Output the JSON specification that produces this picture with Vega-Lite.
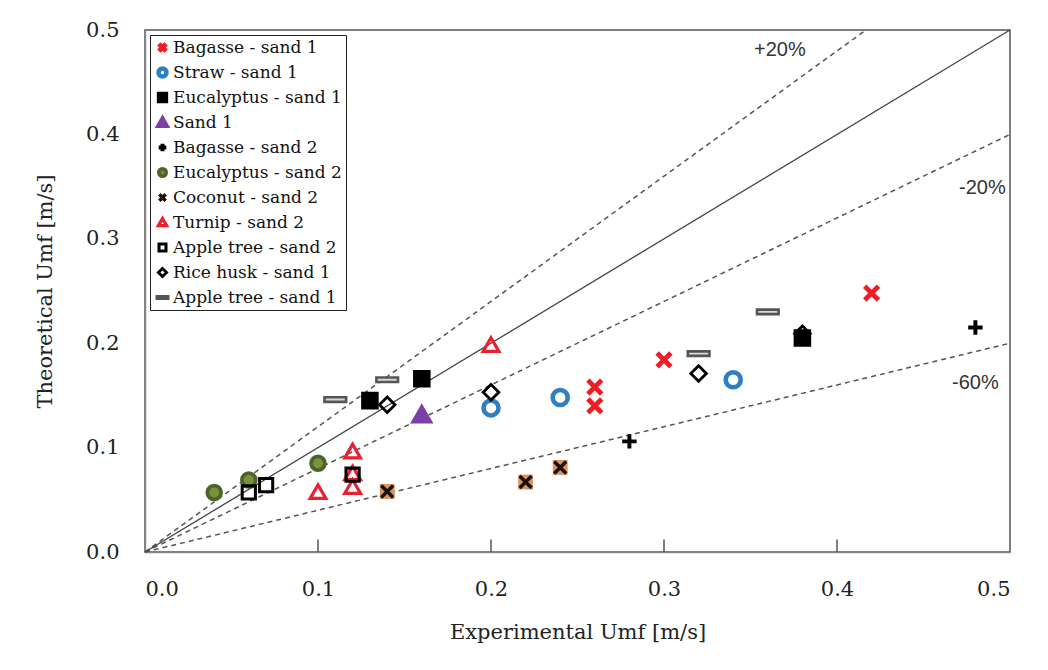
{
  "$schema": "https://vega.github.io/schema/vega-lite/v6.json",
  "autosize": "none",
  "width": 865,
  "height": 522,
  "padding": {"left": 145, "top": 30, "right": 38, "bottom": 118},
  "background": "white",
  "config": {
    "view": {"stroke": "#555", "strokeWidth": 1.5},
    "font": "DejaVu Serif",
    "axis": {
      "grid": false,
      "domainColor": "#888",
      "domainWidth": 1.5,
      "labelFont": "DejaVu Serif",
      "labelFontSize": 21,
      "labelColor": "#222",
      "titleFont": "DejaVu Serif",
      "titleFontSize": 21,
      "titleFontWeight": "normal",
      "titleColor": "#222"
    },
    "legend": {
      "labelFont": "DejaVu Serif",
      "labelFontSize": 17,
      "labelColor": "#111",
      "labelLimit": 400,
      "symbolSize": 40
    }
  },
  "datasets": {
    "pts": [
      {"series": "Bagasse - sand 1", "x": 0.42, "y": 0.248},
      {"series": "Bagasse - sand 1", "x": 0.30, "y": 0.184},
      {"series": "Bagasse - sand 1", "x": 0.26, "y": 0.158},
      {"series": "Bagasse - sand 1", "x": 0.26, "y": 0.140},
      {"series": "Straw - sand 1", "x": 0.20, "y": 0.138},
      {"series": "Straw - sand 1", "x": 0.24, "y": 0.148},
      {"series": "Straw - sand 1", "x": 0.34, "y": 0.165},
      {"series": "Eucalyptus - sand 1", "x": 0.13, "y": 0.145},
      {"series": "Eucalyptus - sand 1", "x": 0.16, "y": 0.166},
      {"series": "Eucalyptus - sand 1", "x": 0.38, "y": 0.205},
      {"series": "Sand 1", "x": 0.16, "y": 0.131},
      {"series": "Bagasse - sand 2", "x": 0.28, "y": 0.106},
      {"series": "Bagasse - sand 2", "x": 0.48, "y": 0.215},
      {"series": "Eucalyptus - sand 2", "x": 0.04, "y": 0.057},
      {"series": "Eucalyptus - sand 2", "x": 0.06, "y": 0.069},
      {"series": "Eucalyptus - sand 2", "x": 0.10, "y": 0.085},
      {"series": "Coconut - sand 2", "x": 0.14, "y": 0.058},
      {"series": "Coconut - sand 2", "x": 0.22, "y": 0.067},
      {"series": "Coconut - sand 2", "x": 0.24, "y": 0.081},
      {"series": "Turnip - sand 2", "x": 0.20, "y": 0.198},
      {"series": "Turnip - sand 2", "x": 0.12, "y": 0.096},
      {"series": "Turnip - sand 2", "x": 0.12, "y": 0.075},
      {"series": "Turnip - sand 2", "x": 0.12, "y": 0.062},
      {"series": "Turnip - sand 2", "x": 0.10, "y": 0.057},
      {"series": "Apple tree - sand 2", "x": 0.06, "y": 0.057},
      {"series": "Apple tree - sand 2", "x": 0.07, "y": 0.064},
      {"series": "Apple tree - sand 2", "x": 0.12, "y": 0.074},
      {"series": "Rice husk - sand 1", "x": 0.14, "y": 0.141},
      {"series": "Rice husk - sand 1", "x": 0.20, "y": 0.153},
      {"series": "Rice husk - sand 1", "x": 0.32, "y": 0.171},
      {"series": "Rice husk - sand 1", "x": 0.38, "y": 0.209},
      {"series": "Apple tree - sand 1", "x": 0.11, "y": 0.146},
      {"series": "Apple tree - sand 1", "x": 0.14, "y": 0.165},
      {"series": "Apple tree - sand 1", "x": 0.32, "y": 0.190},
      {"series": "Apple tree - sand 1", "x": 0.36, "y": 0.230}
    ],
    "lines": [
      {"line": "1:1", "x": 0, "y": 0},
      {"line": "1:1", "x": 0.5, "y": 0.5},
      {"line": "+20%", "x": 0, "y": 0},
      {"line": "+20%", "x": 0.4167, "y": 0.5},
      {"line": "-20%", "x": 0, "y": 0},
      {"line": "-20%", "x": 0.5, "y": 0.4},
      {"line": "-60%", "x": 0, "y": 0},
      {"line": "-60%", "x": 0.5, "y": 0.2}
    ],
    "labels": [
      {"text": "+20%", "x": 0.367, "y": 0.481},
      {"text": "-20%", "x": 0.484, "y": 0.349},
      {"text": "-60%", "x": 0.48, "y": 0.162}
    ],
    "xtickrows": [
      {"tx": 0.1, "ty": 0, "ty2": 0.012},
      {"tx": 0.2, "ty": 0, "ty2": 0.012},
      {"tx": 0.3, "ty": 0, "ty2": 0.012},
      {"tx": 0.4, "ty": 0, "ty2": 0.012}
    ]
  },
  "layer": [
    {
      "data": {"name": "lines"},
      "transform": [{"filter": "datum.line != '1:1'"}],
      "mark": {"type": "line", "color": "#555", "strokeWidth": 1.5, "strokeDash": [5, 4]},
      "encoding": {
        "x": {"field": "x", "type": "quantitative", "scale": {"domain": [0, 0.5]}},
        "y": {"field": "y", "type": "quantitative", "scale": {"domain": [0, 0.5]}},
        "detail": {"field": "line"}
      }
    },
    {
      "data": {"name": "xtickrows"},
      "mark": {"type": "rule", "color": "#555", "strokeWidth": 1.5},
      "encoding": {
        "x": {"field": "tx", "type": "quantitative"},
        "y": {"field": "ty", "type": "quantitative"},
        "y2": {"field": "ty2"}
      }
    },
    {
      "data": {"name": "lines"},
      "transform": [{"filter": "datum.line == '1:1'"}],
      "mark": {"type": "line", "color": "#444", "strokeWidth": 1.3},
      "encoding": {
        "x": {"field": "x", "type": "quantitative"},
        "y": {"field": "y", "type": "quantitative"}
      }
    },
    {
      "data": {"name": "labels"},
      "mark": {"type": "text", "font": "Liberation Sans", "fontSize": 20, "color": "#333"},
      "encoding": {
        "x": {"field": "x", "type": "quantitative"},
        "y": {"field": "y", "type": "quantitative"},
        "text": {"field": "text"}
      }
    },
    {
      "data": {"name": "pts"},
      "transform": [{"filter": "datum.series == 'Coconut - sand 2'"}],
      "mark": {"type": "point", "shape": "square", "filled": true, "color": "#D9955F", "size": 220, "opacity": 1},
      "encoding": {
        "x": {"field": "x", "type": "quantitative"},
        "y": {"field": "y", "type": "quantitative"}
      }
    },
    {
      "data": {"name": "pts"},
      "mark": {"type": "point", "size": 144, "opacity": 1},
      "encoding": {
        "x": {
          "field": "x", "type": "quantitative",
          "scale": {"domain": [0, 0.5]},
          "axis": {"values": [0, 0.1, 0.2, 0.3, 0.4, 0.5], "format": ".1f", "ticks": false, "labelPadding": 26, "title": "Experimental Umf [m/s]", "titlePadding": 22}
        },
        "y": {
          "field": "y", "type": "quantitative",
          "scale": {"domain": [0, 0.5]},
          "axis": {"values": [0, 0.1, 0.2, 0.3, 0.4, 0.5], "format": ".1f", "ticks": false, "labelPadding": 26, "title": "Theoretical Umf [m/s]", "titlePadding": 30}
        },
        "shape": {
          "field": "series", "type": "nominal",
          "scale": {
            "domain": ["Bagasse - sand 1", "Straw - sand 1", "Eucalyptus - sand 1", "Sand 1", "Bagasse - sand 2", "Eucalyptus - sand 2", "Coconut - sand 2", "Turnip - sand 2", "Apple tree - sand 2", "Rice husk - sand 1", "Apple tree - sand 1"],
            "range": [
              "M-1.15,-1.15L1.15,1.15M-1.15,1.15L1.15,-1.15",
              "M-1.25,0A1.25,1.25,0,1,1,1.25,0A1.25,1.25,0,1,1,-1.25,0Z",
              "M-1.1,-1.1L1.1,-1.1L1.1,1.1L-1.1,1.1Z",
              "M0,-1.3L1.35,1.05L-1.35,1.05Z",
              "M-1.2,0L1.2,0M0,-1.2L0,1.2",
              "M-1.15,0A1.15,1.15,0,1,1,1.15,0A1.15,1.15,0,1,1,-1.15,0Z",
              "M-1,-1L1,1M-1,1L1,-1",
              "M0,-1.25L1.3,1L-1.3,1Z",
              "M-1.1,-1.1L1.1,-1.1L1.1,1.1L-1.1,1.1Z",
              "M0,-1.3L1.3,0L0,1.3L-1.3,0Z",
              "M-1.8,-0.38L1.8,-0.38L1.8,0.38L-1.8,0.38Z"
            ]
          },
          "legend": {
            "title": null,
            "orient": "top-left",
            "offset": 5,
            "strokeColor": "#222",
            "padding": 4,
            "rowPadding": -2,
            "symbolSize": 40,
            "symbolOffset": 0,
            "labelOffset": 2,
            "labelLimit": 400,
            "gridAlign": "all",
            "fillColor": "white"
          }
        },
        "fill": {
          "field": "series", "type": "nominal",
          "scale": {
            "domain": ["Bagasse - sand 1", "Straw - sand 1", "Eucalyptus - sand 1", "Sand 1", "Bagasse - sand 2", "Eucalyptus - sand 2", "Coconut - sand 2", "Turnip - sand 2", "Apple tree - sand 2", "Rice husk - sand 1", "Apple tree - sand 1"],
            "range": ["transparent", "transparent", "#000000", "#7B3FA8", "transparent", "#7A9240", "transparent", "transparent", "transparent", "transparent", "#D8D8D8"]
          }
        },
        "stroke": {
          "field": "series", "type": "nominal",
          "scale": {
            "domain": ["Bagasse - sand 1", "Straw - sand 1", "Eucalyptus - sand 1", "Sand 1", "Bagasse - sand 2", "Eucalyptus - sand 2", "Coconut - sand 2", "Turnip - sand 2", "Apple tree - sand 2", "Rice husk - sand 1", "Apple tree - sand 1"],
            "range": ["#EE1C25", "#2F7FC1", "#000000", "#7B3FA8", "#000000", "#4F6228", "#1A1008", "#E8202F", "#000000", "#000000", "#555555"]
          }
        },
        "strokeWidth": {
          "field": "series", "type": "nominal",
          "scale": {
            "domain": ["Bagasse - sand 1", "Straw - sand 1", "Eucalyptus - sand 1", "Sand 1", "Bagasse - sand 2", "Eucalyptus - sand 2", "Coconut - sand 2", "Turnip - sand 2", "Apple tree - sand 2", "Rice husk - sand 1", "Apple tree - sand 1"],
            "range": [4.8, 2.6, 1, 1, 1.8, 1, 2.6, 2.6, 2.4, 2.4, 1.2]
          }
        }
      }
    }
  ]
}
